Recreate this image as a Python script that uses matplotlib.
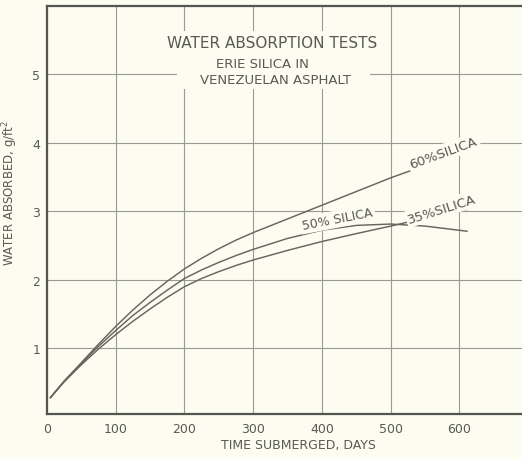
import matplotlib
matplotlib.use("Agg")
import matplotlib.pyplot as plt
from matplotlib.patches import Rectangle

# Water absorbed (g/ft^2) versus days submerged, Erie silica in Venezuelan asphalt
days = [5, 25, 50, 75, 100, 125, 150, 175, 200, 225, 250, 275, 300, 350, 400, 450, 500, 550, 611]
silica_60 = [0.28, 0.52, 0.79, 1.06, 1.32, 1.56, 1.78, 1.98, 2.16, 2.315, 2.455, 2.58, 2.69,
             2.89, 3.09, 3.29, 3.49, 3.67, 3.87]
silica_50 = [0.28, 0.52, 0.78, 1.03, 1.26, 1.48, 1.67, 1.85, 2.02, 2.145, 2.255, 2.355, 2.445,
             2.605, 2.725, 2.795, 2.815, 2.785, 2.71]
silica_35 = [0.28, 0.51, 0.76, 0.99, 1.20, 1.395, 1.575, 1.745, 1.90, 2.02, 2.12, 2.21, 2.29,
             2.43, 2.56, 2.675, 2.785, 2.90, 3.03]

x_ticks = [0, 100, 200, 300, 400, 500, 600]
y_ticks = [1, 2, 3, 4, 5]

title_lines = ["WATER ABSORPTION TESTS", "ERIE SILICA IN", "VENEZUELAN ASPHALT"]
curve_labels = ["60%SILICA", "50% SILICA", "35%SILICA"]

BG = "#fcfcf1"
INK = "#5a5a55"
GRID = "#9a9a94"

fig = plt.figure(figsize=(5.22, 4.60), dpi=100, facecolor=BG)
ax = fig.add_axes([47 / 522, 45 / 460, 475 / 522, 408 / 460], facecolor=BG)

ax.set_xlim(0, 691)
ax.set_ylim(0.04, 6.0)

ax.set_xticks(x_ticks)
ax.set_yticks(y_ticks)
ax.set_xticklabels([str(v) for v in x_ticks])
ax.set_yticklabels([str(v) for v in y_ticks])
ax.tick_params(length=0, pad=6, labelsize=9, colors=INK)
ax.tick_params(axis="y", pad=5)

ax.grid(True, color=GRID, linewidth=0.8, zorder=1)
ax.set_axisbelow(True)

for side in ("left", "bottom", "top"):
    ax.spines[side].set_color("#55554f")
    ax.spines[side].set_linewidth(1.6)
ax.spines["right"].set_visible(False)

for series in (silica_60, silica_50, silica_35):
    ax.plot(days, series, color="#66665f", linewidth=1.05, zorder=3)

# Blank panel behind the title block
ax.add_patch(Rectangle((189, 4.79), 281, 0.84, facecolor=BG, edgecolor="none", zorder=2))
ax.text(328, 5.46, title_lines[0], ha="center", va="center", fontsize=11, color=INK, zorder=4)
ax.text(314, 5.16, title_lines[1], ha="center", va="center", fontsize=9.5, color=INK, zorder=4)
ax.text(332, 4.92, title_lines[2], ha="center", va="center", fontsize=9.5, color=INK, zorder=4)

box = dict(facecolor=BG, edgecolor="none", pad=1.5)
ax.text(577, 3.86, curve_labels[0], ha="center", va="center", rotation=20,
        fontsize=9.5, color=INK, bbox=box, zorder=4)
ax.text(423, 2.89, curve_labels[1], ha="center", va="center", rotation=11,
        fontsize=9, color=INK, bbox=box, zorder=4)
ax.text(575, 3.04, curve_labels[2], ha="center", va="center", rotation=17.5,
        fontsize=9.5, color=INK, bbox=box, zorder=4)

ax.set_xlabel("TIME SUBMERGED, DAYS", fontsize=9, color=INK)
ax.xaxis.set_label_coords(0.53, -0.06)
ax.set_ylabel("WATER ABSORBED, g/ft$^2$", fontsize=8.5, color=INK)
ax.yaxis.set_label_coords(-0.056, 0.543)

fig.savefig("out.png", dpi=100, facecolor=BG)
